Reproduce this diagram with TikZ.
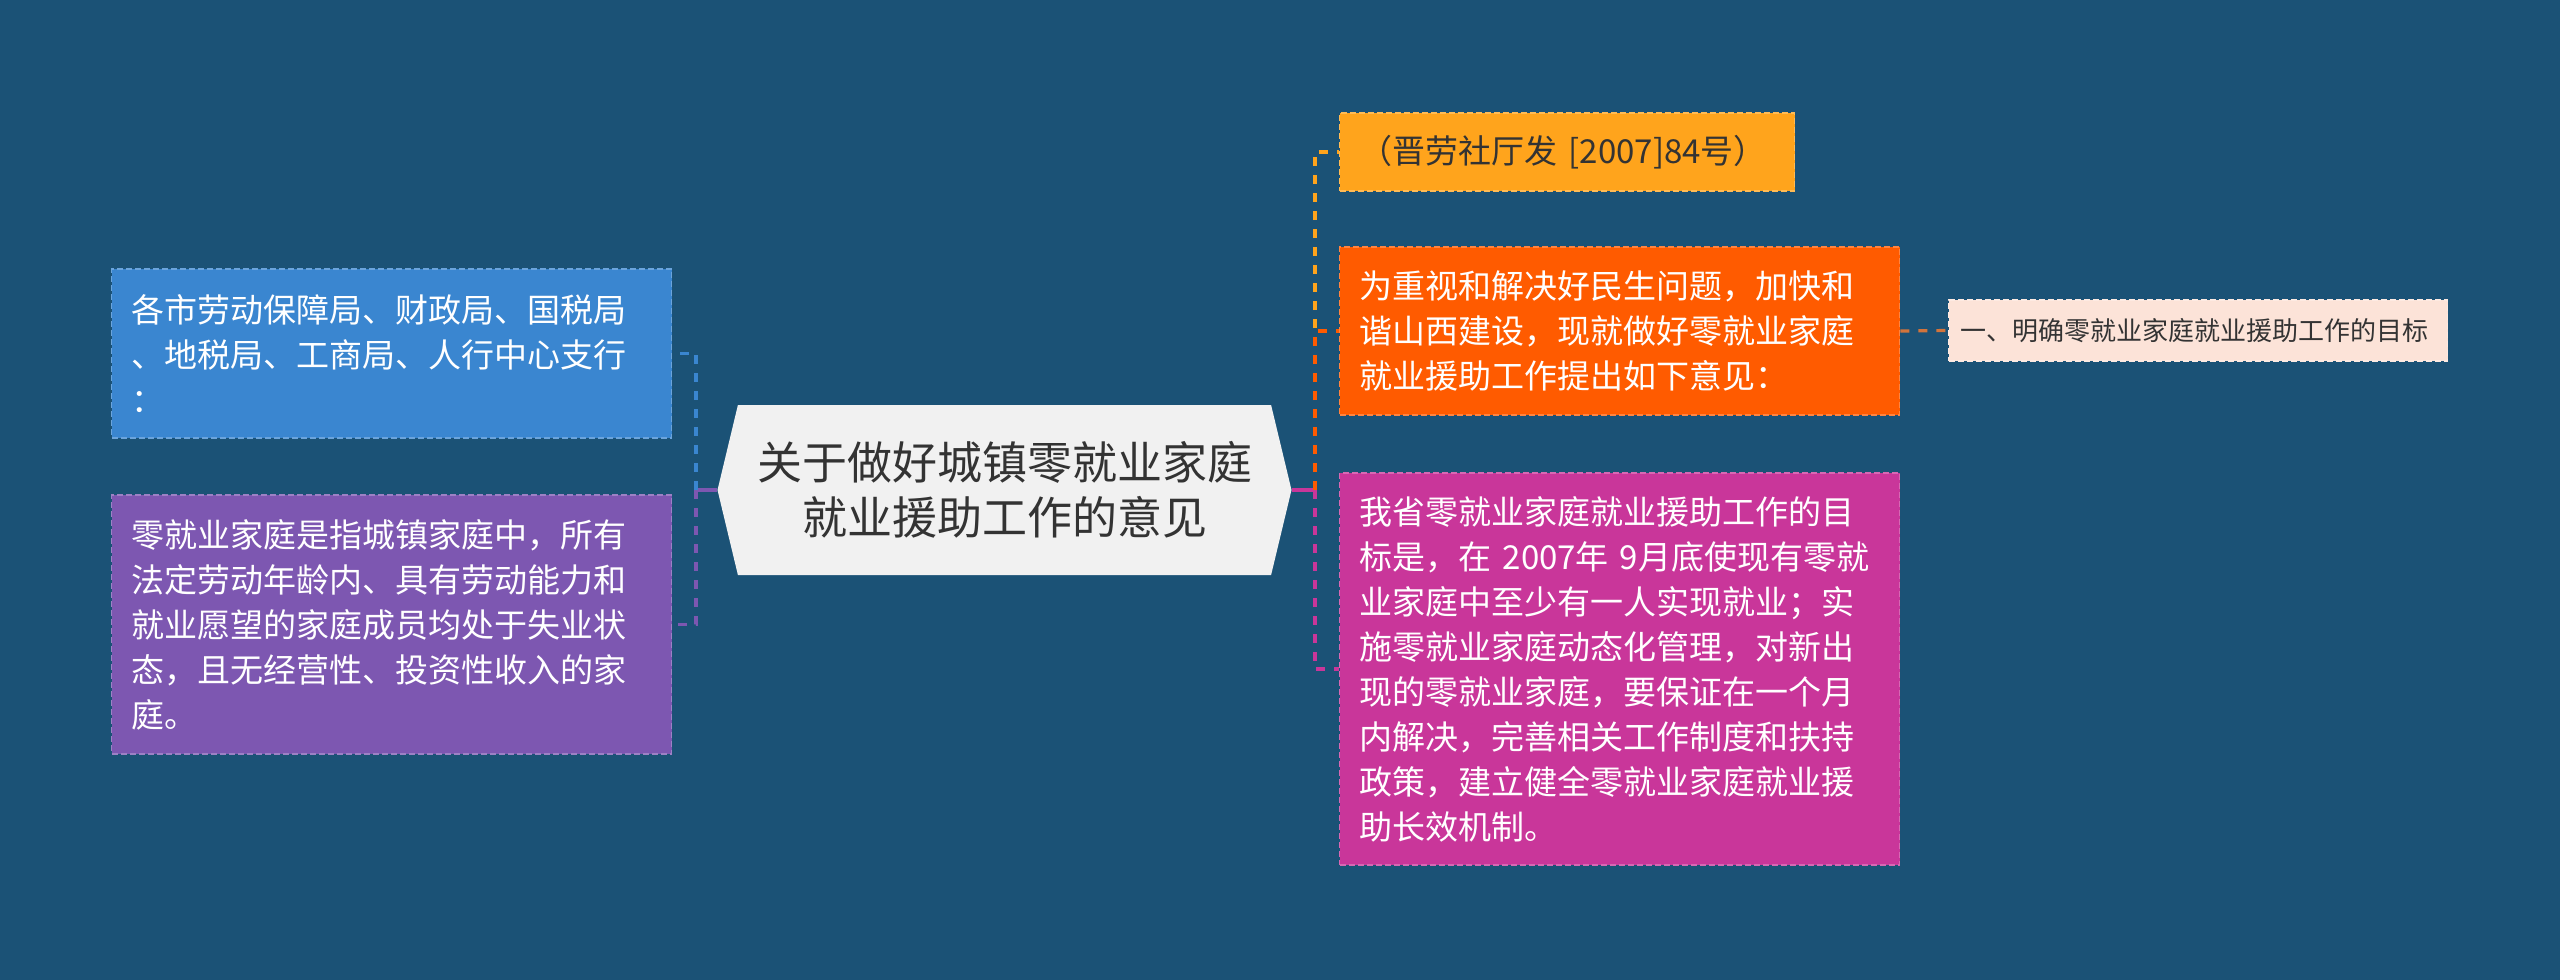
\documentclass[tikz,border=0pt]{standalone}
\usepackage{fontspec}
\newfontfamily\cjk{Noto Sans CJK SC}
\usetikzlibrary{shapes.symbols}
\definecolor{bgblue}{HTML}{1B5276}
\definecolor{rootgray}{HTML}{F1F1F1}
\definecolor{darktext}{HTML}{333333}
\definecolor{leafblue}{HTML}{3A86D0}
\definecolor{leafpurple}{HTML}{7D57B1}
\definecolor{leafyellow}{HTML}{FFA41C}
\definecolor{leaforange}{HTML}{FF5B00}
\definecolor{leafmagenta}{HTML}{C9369A}
\definecolor{leafpink}{HTML}{FCE3D8}
\definecolor{linkbrown}{HTML}{D2743C}

\begin{document}
\begin{tikzpicture}[x=0.5pt, y=-0.5pt, every node/.style={inner sep=2pt, font=\cjk},
  leaf/.style={anchor=west, fill=#1, draw=#1!75!white, dash pattern=on 3pt off 1.5pt, line width=0.7pt,
    text=white, align=left, text width=260pt, inner xsep=10pt, inner ysep=0pt,
    font=\cjk\fontsize{16.5pt}{22.5pt}\selectfont},
  link/.style={draw=#1, line width=1.6pt, dash pattern=on 4.5pt off 4.5pt},
  stub/.style={draw=#1, line width=1.6pt}]
\path[use as bounding box, fill=bgblue] (0,0) rectangle (2560,980);

% centre topic
\node (root) [shape=signal, signal to=west and east, signal pointer angle=153,
  fill=rootgray, minimum width=287pt, minimum height=85pt,
  align=center, text=darktext, font=\cjk\fontsize{22.5pt}{27.5pt}\selectfont] at (1004.5,490)
  {关于做好城镇零就业家庭\\就业援助工作的意见};

% left side
\node (b1) [leaf=leafblue, minimum height=84.5pt] at (111,353.5)
  {各市劳动保障局、财政局、国税局\\、地税局、工商局、人行中心支行\\：};
\node (b2) [leaf=leafpurple, minimum height=129.5pt] at (111,624.5)
  {零就业家庭是指城镇家庭中，所有\\法定劳动年龄内、具有劳动能力和\\就业愿望的家庭成员均处于失业状\\态，且无经营性、投资性收入的家\\庭。};

% right side
\node (r1) [leaf=leafyellow, text=darktext, text width=207.5pt, minimum height=39pt] at (1339,152)
  {（晋劳社厅发 [2007]84号）};
\node (r2) [leaf=leaforange, minimum height=84pt] at (1339,331)
  {为重视和解决好民生问题，加快和\\谐山西建设，现就做好零就业家庭\\就业援助工作提出如下意见：};
\node (r3) [leaf=leafmagenta, minimum height=196pt] at (1339,669)
  {我省零就业家庭就业援助工作的目\\标是，在 2007年 9月底使现有零就\\业家庭中至少有一人实现就业；实\\施零就业家庭动态化管理，对新出\\现的零就业家庭，要保证在一个月\\内解决，完善相关工作制度和扶持\\政策，建立健全零就业家庭就业援\\助长效机制。};
\node (s1) [leaf=leafpink, text=darktext, text width=237.5pt, inner xsep=6pt, minimum height=30.5pt,
  font=\cjk\fontsize{13pt}{16pt}\selectfont] at (1948,330.5)
  {一、明确零就业家庭就业援助工作的目标};

% connectors
\draw[stub=leafpurple] (root.west) -- ++(-21,0) coordinate (lj);
\draw[link=leafblue] (lj) |- (b1.east);
\draw[link=leafpurple] (lj) |- (b2.east);
\draw[stub=leafmagenta] (root.east) -- ++(23,0) coordinate (rj);
\draw[link=leafyellow] (rj) |- (r1.west);
\draw[link=leaforange] (rj) |- (r2.west);
\draw[link=leafmagenta] (rj) |- (r3.west);
\draw[link=linkbrown] (r2.east) -- (s1.west);
\end{tikzpicture}
\end{document}
